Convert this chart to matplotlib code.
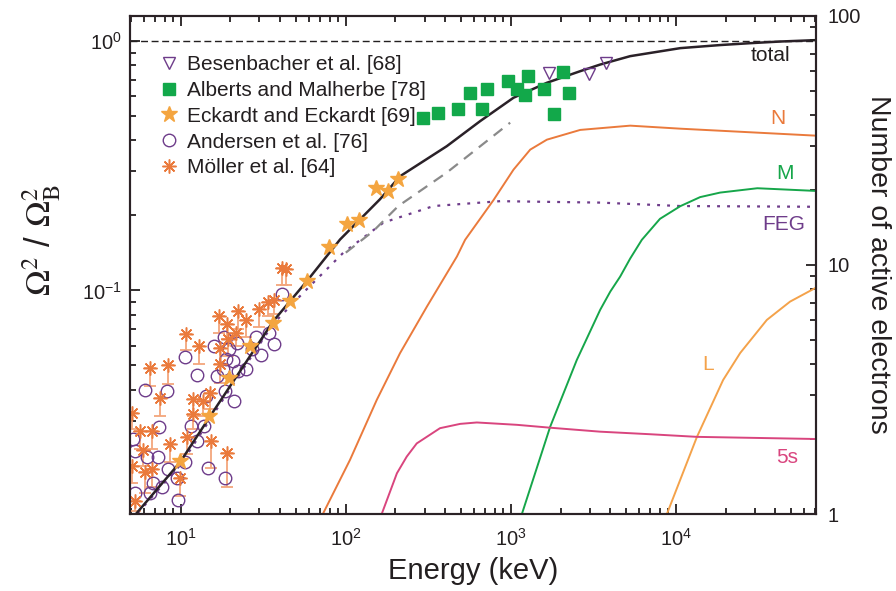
## Stopping of ions in gold: Omega^2 / Omega_B^2 vs energy,
## with the number of active electrons per shell on the right axis.

import numpy as np
import matplotlib.pyplot as plt
from matplotlib.ticker import LogLocator, NullFormatter, FixedLocator, FixedFormatter

plt.rcParams['font.family'] = ['Liberation Sans', 'DejaVu Sans']
plt.rcParams['mathtext.fontset'] = 'custom'
plt.rcParams['mathtext.rm'] = 'Liberation Sans'
plt.rcParams['mathtext.it'] = 'Liberation Sans:italic'

## theory curves, left axis units
total_e = [5.0, 9.9, 15.1, 36.4, 58.1, 92.3, 161, 213, 409, 652, 1037, 1652, 2630, 3475, 5280,
           10620, 18500, 28200, 42700, 70500]
total_y = [0.0120, 0.0204, 0.0313, 0.0753, 0.1089, 0.160, 0.232, 0.287, 0.379, 0.478, 0.593,
           0.681, 0.758, 0.806, 0.871, 0.938, 0.965, 0.982, 0.997, 1.01]

feg_e = [5.0, 10, 20, 36.4, 55.3, 96.7, 169, 340, 861, 3475, 10620, 70500]
feg_y = [0.0119, 0.0200, 0.0405, 0.0735, 0.0979, 0.1417, 0.187, 0.218, 0.228, 0.225, 0.218, 0.2165]

gray_e = [100, 146.8, 208, 409, 990]
gray_y = [0.1417, 0.173, 0.218, 0.297, 0.471]

## shell curves, number of active electrons (right axis)
n_e = [72.6, 106, 154, 213, 310, 471, 528, 785, 1037, 1309, 1652, 2630, 5280, 10620, 70500]
n_n = [1.0, 1.648, 2.87, 4.42, 6.80, 10.8, 12.6, 18.2, 24.1, 29.0, 31.8, 34.8, 36.2, 35.2, 33.0]

m_e = [1166, 1730, 2507, 3475, 4000, 4590, 5280, 6210, 8000, 10620, 14000, 18500, 31100, 70500]
m_n = [1.0, 2.24, 4.15, 6.6, 7.81, 8.97, 10.6, 12.6, 15.3, 17.2, 18.7, 19.5, 20.3, 19.8]

l_e = [8810, 13400, 19300, 24500, 35500, 49100, 70500]
l_n = [1.0, 2.04, 3.45, 4.43, 6.01, 7.12, 8.1]

s5_e = [165, 204, 234, 269, 372, 493, 622, 1087, 1730, 3475, 6980, 13400, 70500]
s5_n = [1.0, 1.457, 1.70, 1.92, 2.21, 2.30, 2.33, 2.28, 2.22, 2.14, 2.09, 2.04, 2.0]

## experiments
bes_e = [1690, 2990, 3780]
bes_y = [0.747, 0.740, 0.819]

alb_e = [295, 364, 481, 566, 667, 721, 967, 1086, 1219, 1265, 1577, 1813, 2083, 2235]
alb_y = [0.490, 0.513, 0.535, 0.617, 0.532, 0.640, 0.691, 0.640, 0.611, 0.728, 0.644, 0.508, 0.751, 0.617]

eck_e = [9.9, 14.9, 19.7, 26.3, 36.4, 45.9, 58.5, 79.6, 101.8, 120.9, 152.7, 181, 208]
eck_y = [0.0207, 0.0313, 0.0446, 0.0598, 0.0737, 0.0906, 0.1089, 0.1497, 0.184, 0.191, 0.258, 0.250, 0.279]

and_e = [10.6, 12.6, 6.08, 8.22, 7.36, 5.29, 6.22, 7.26, 8.41, 9.55, 6.82, 5.29, 6.51, 7.67,
         9.67, 14.7, 18.6, 11.5, 12.6, 13.8, 14.2, 16.0, 18.3, 19.7, 22.0, 18.8, 20.8, 16.5,
         18.1, 22.3, 24.9, 18.6, 21.0, 28.6, 30.5, 34.3, 36.8, 40.9, 26.9, 5.16, 10.6]
and_y = [0.0542, 0.0459, 0.0397, 0.0394, 0.0284, 0.0227, 0.0215, 0.0215, 0.0191, 0.0177, 0.0169,
         0.0154, 0.0153, 0.0162, 0.0144, 0.0194, 0.0177, 0.0286, 0.0249, 0.0286, 0.0377, 0.0598,
         0.0652, 0.0580, 0.0617, 0.0529, 0.0520, 0.0453, 0.0482, 0.0475, 0.0485, 0.0394, 0.0360,
         0.0652, 0.0552, 0.0677, 0.0607, 0.0964, 0.0580, 0.0252, 0.0204]

mol_e = [40.9, 43.5, 10.8, 12.96, 6.51, 8.41, 7.49, 17.0, 19.2, 22.3, 24.9, 29.9, 34.0, 36.8,
         21.6, 17.3, 19.4, 17.3, 11.9, 13.6, 15.1, 11.8, 5.05, 5.67, 6.67, 8.61, 10.9, 15.2,
         19.0, 5.93, 6.08, 6.67, 5.05, 5.29, 9.88]
mol_y = [0.1233, 0.1222, 0.0666, 0.0598, 0.0490, 0.0500, 0.0369, 0.0789, 0.0731, 0.0826, 0.0760,
         0.0839, 0.0901, 0.0914, 0.0677, 0.0589, 0.0636, 0.0505, 0.0365, 0.0360, 0.0389, 0.0318,
         0.0323, 0.0273, 0.0273, 0.0241, 0.0257, 0.0249, 0.0223, 0.0229, 0.0186, 0.0191, 0.0197,
         0.0143, 0.0177]
mol_low = [0.1047, 0.1047, 0.0576, 0.0505, 0.0413, 0.0420, 0.0313, 0.0677, 0.0640, 0.0698, 0.0652,
           0.0715, 0.0789, 0.0801, 0.0598, 0.0505, 0.0545, 0.0426, 0.0313, 0.0313, 0.0333, 0.0277,
           0.0277, 0.0230, 0.0230, 0.0204, 0.0220, 0.0194, 0.0163, 0.0197, 0.0154, 0.0162, 0.0169,
           0.0130, 0.0150]

z_au = 79  # left axis 1.0 == 79 electrons

ink = '#231F20'
c_n = '#EA7A3C'
c_m = '#16A64A'
c_l = '#F4A24A'
c_5s = '#D9457E'
c_purple = '#6E3C8A'

fig = plt.figure(figsize=(8.96, 5.91), dpi=100)
ax = fig.add_axes([130/896, 1-514/591, 686/896, 498.3/591])
ax2 = ax.twinx()

## theory
ax.plot(feg_e, feg_y, color=c_purple, lw=1.6, ls=(0, (1.3, 3.2)), zorder=2)
ax.plot(gray_e, gray_y, color='#8A8A8A', lw=1.6, ls=(0, (5, 3.5)), zorder=2)
ax.axhline(1.0, color=ink, lw=1.0, ls=(0, (5, 2.6)), zorder=1)

ax2.plot(n_e, n_n, color=c_n, lw=1.4)
ax2.plot(m_e, m_n, color=c_m, lw=1.4)
ax2.plot(l_e, l_n, color=c_l, lw=1.4)
ax2.plot(s5_e, s5_n, color=c_5s, lw=1.4)

## experiments
ax.errorbar(mol_e, mol_y, yerr=[np.array(mol_y) - np.array(mol_low), np.zeros(len(mol_y))],
            fmt='none', ecolor='#F3A67C', elinewidth=1.3, capsize=4, capthick=1.3, zorder=3)
h_and, = ax.plot(and_e, and_y, ls='none', marker='o', ms=9, mfc='none', mec=c_purple, mew=1.0,
                 zorder=3, label='Andersen et al. [76]')
h_mol, = ax.plot(mol_e, mol_y, ls='none', marker=(8, 2, 0), ms=10, mec=c_n, mew=1.1,
                 zorder=4, label='Möller et al. [64]')
ax.plot(total_e, total_y, color='#2A2128', lw=1.8, zorder=4)
h_eck, = ax.plot(eck_e, eck_y, ls='none', marker='*', ms=12, mfc='#F4A540', mec='#F4A540',
                 zorder=5, label='Eckardt and Eckardt [69]')
h_alb, = ax.plot(alb_e, alb_y, ls='none', marker='s', ms=8, mfc='#12A84A', mec='#12A84A',
                 zorder=5, label='Alberts and Malherbe [78]')
h_bes, = ax.plot(bes_e, bes_y, ls='none', marker='v', ms=9, mfc='none', mec=c_purple, mew=1.0,
                 zorder=5, label='Besenbacher et al. [68]')

leg = ax.legend(handles=[h_bes, h_alb, h_eck, h_and, h_mol], loc='upper left',
                bbox_to_anchor=(0.03, 0.938), frameon=False, fontsize=15,
                handlelength=1.0, handletextpad=0.35, labelspacing=0.33, borderaxespad=0)
for t in leg.get_texts():
    t.set_color(ink)

## curve labels
ax2.text(37300, 69.3, 'total', color=ink, fontsize=15, ha='center', va='center')
ax2.text(41600, 38.8, 'N', color=c_n, fontsize=15, ha='center', va='center')
ax2.text(45600, 23.2, 'M', color=c_m, fontsize=15, ha='center', va='center')
ax2.text(44900, 14.5, 'FEG', color=c_purple, fontsize=15, ha='center', va='center')
ax2.text(15700, 3.97, 'L', color=c_l, fontsize=15, ha='center', va='center')
ax2.text(47000, 1.68, '5s', color=c_5s, fontsize=15, ha='center', va='center')

## axes
ax.set_xscale('log')
ax.set_yscale('log')
ax2.set_yscale('log')
ax.set_xlim(4.93, 70500)
ax.set_ylim(1/z_au, 100/z_au)
ax2.set_ylim(1, 100)

ax.xaxis.set_major_locator(LogLocator(base=10))
ax.xaxis.set_minor_locator(LogLocator(base=10, subs=np.arange(2, 10)))
ax.xaxis.set_minor_formatter(NullFormatter())
ax.yaxis.set_minor_locator(LogLocator(base=10, subs=np.arange(2, 10)))
ax.yaxis.set_minor_formatter(NullFormatter())
ax2.yaxis.set_major_locator(FixedLocator([1, 10, 100]))
ax2.yaxis.set_major_formatter(FixedFormatter(['1', '10', '100']))
ax2.yaxis.set_minor_locator(LogLocator(base=10, subs=np.arange(2, 10)))
ax2.yaxis.set_minor_formatter(NullFormatter())

ax.tick_params(which='both', direction='in', top=True, right=False, colors=ink,
               labelsize=14.5, width=1.3)
ax.tick_params(which='major', length=7)
ax.tick_params(which='minor', length=4)
ax.tick_params(axis='x', which='major', pad=10)
ax.tick_params(axis='y', which='major', pad=6)
ax2.tick_params(which='both', direction='in', colors=ink, labelsize=14.5, width=1.3)
ax2.tick_params(which='major', length=7, pad=8)
ax2.tick_params(which='minor', length=4)

for a in (ax, ax2):
    for s in a.spines.values():
        s.set_linewidth(1.5)
        s.set_color('#2B2226')

ax.set_xlabel('Energy (keV)', fontsize=21, color=ink, labelpad=5)
ax.set_ylabel(r'$\Omega^2$ / $\Omega_{\mathrm{B}}^2$', fontsize=25, color=ink,
              math_fontfamily='stix')
ax.yaxis.set_label_coords(-0.097, 0.55)
ax2.set_ylabel('Number of active electrons', fontsize=20.5, color=ink, rotation=270,
               va='bottom', labelpad=3)

fig.savefig('out.png', dpi=100)
